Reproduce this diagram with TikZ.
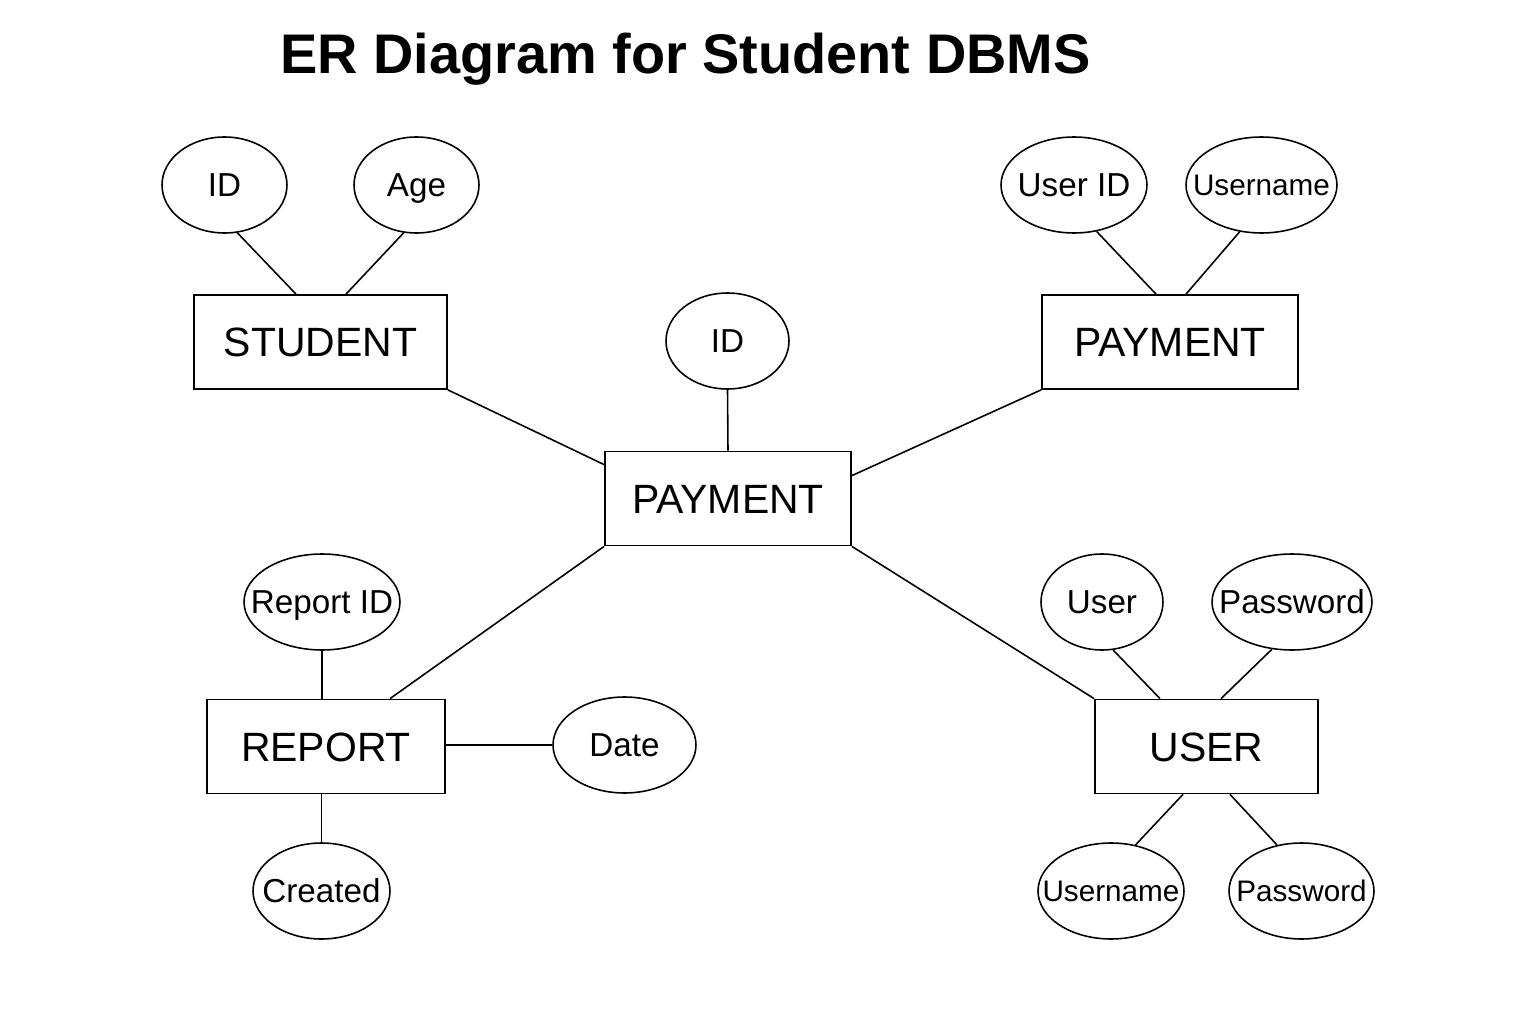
\documentclass[tikz,border=0pt]{standalone}
\usepackage{fontspec}
\setmainfont{Liberation Sans}
\usepackage{tikz}
\usetikzlibrary{positioning}
\usetikzlibrary{shapes}
\usetikzlibrary{calc}

\tikzset{
  ent/.style={draw, line width=1pt, inner sep=0pt, minimum height=1.88cm, text height=16.7pt, text depth=0pt, font=\fontsize{23.3}{27}\selectfont},
  attr/.style={draw, ellipse, line width=0.9pt, inner sep=0pt, minimum height=1.92cm},
  conn/.style={line width=0.9pt},
  every label/.style={text height=13.5pt, text depth=0pt, font=\fontsize{18.9}{22}\selectfont},
  small/.style={text height=12.1pt, font=\fontsize{16.9}{20}\selectfont}
}

\begin{document}
\begin{tikzpicture}[x=0.02cm, y=-0.02cm]
 \useasboundingbox (0,0) rectangle (1536,1024);

 %title
 \node[font=\fontsize{31.8}{36}\selectfont\bfseries, inner sep=0pt, text height=22.8pt, text depth=0pt] (title) at (685.5,53) {ER Diagram for Student DBMS};

 %entities
 \node[ent, minimum width=5.06cm] (student) at (320.5,342) {STUDENT};
 \node[ent, minimum width=5.12cm] (payb) at (1170,342) {PAYMENT};
 \node[ent, minimum width=4.92cm] (pay) at (728,498.5) {PAYMENT};
 \node[ent, minimum width=4.76cm] (report) at (326,746.5) {REPORT};
 \node[ent, minimum width=4.46cm] (user) at (1206.5,746.5) {USER};

 %attributes top
 \node[attr, minimum width=2.5cm, label={center:ID}] (sid) at (224.5,185) {};
 \node[attr, minimum width=2.5cm, label={center:Age}] (sage) at (416.5,185) {};
 \node[attr, minimum width=2.92cm, label={center:User ID}] (puid) at (1074,185) {};
 \node[attr, minimum width=3.02cm, label={[small]center:Username}] (puname) at (1261.5,185) {};
 \node[attr, minimum width=2.46cm, label={center:ID}] (cid) at (727.5,341) {};

 %attributes bottom
 \node[attr, minimum width=3.12cm, label={center:Report ID}] (rid) at (322,602) {};
 \node[attr, minimum width=2.86cm, label={center:Date}] (rdate) at (624.5,745) {};
 \node[attr, minimum width=2.74cm, label={center:Created}] (rcreated) at (321.5,891) {};
 \node[attr, minimum width=2.44cm, label={center:User}] (uuser) at (1102,602) {};
 \node[attr, minimum width=3.2cm, label={center:Password}] (upass) at (1292,602) {};
 \node[attr, minimum width=2.92cm, label={[small]center:Username}] (uname) at (1111,891) {};
 \node[attr, minimum width=2.9cm, label={[small]center:Password}] (upassb) at (1301.5,891) {};

 %lines
 \path[draw, conn] (sid.-75) -- ($(student.north)+(-24.5,0)$);
 \path[draw, conn] (sage.-105) -- ($(student.north)+(25.5,0)$);
 \path[draw, conn] (puid.-64) -- ($(payb.north)+(-14,0)$);
 \path[draw, conn] (puname.-115) -- ($(payb.north)+(16,0)$);
 \path[draw, conn] (cid.south) -- (pay.north);

 \path[draw, conn] (student.south east) -- ($(pay.north west)+(0,14)$);
 \path[draw, conn] (payb.south west) -- ($(pay.north east)+(0,25)$);
 \path[draw, conn] (pay.south west) -- ($(report.north)+(64,0)$);
 \path[draw, conn] (pay.south east) -- (user.north west);

 \path[draw, conn] (rid.south) -- (rid.south |- report.north);
 \path[draw, conn] (rdate.west -| report.east) -- (rdate.west);
 \path[draw, conn] (rcreated.north |- report.south) -- (rcreated.north);

 \path[draw, conn] (uuser.-77) -- ($(user.north)+(-46.5,0)$);
 \path[draw, conn] (upass.-113) -- ($(user.north)+(14.5,0)$);
 \path[draw, conn] ($(user.south)+(-23.5,0)$) -- (uname.62);
 \path[draw, conn] ($(user.south)+(23.5,0)$) -- (upassb.118);

\end{tikzpicture}
\end{document}
